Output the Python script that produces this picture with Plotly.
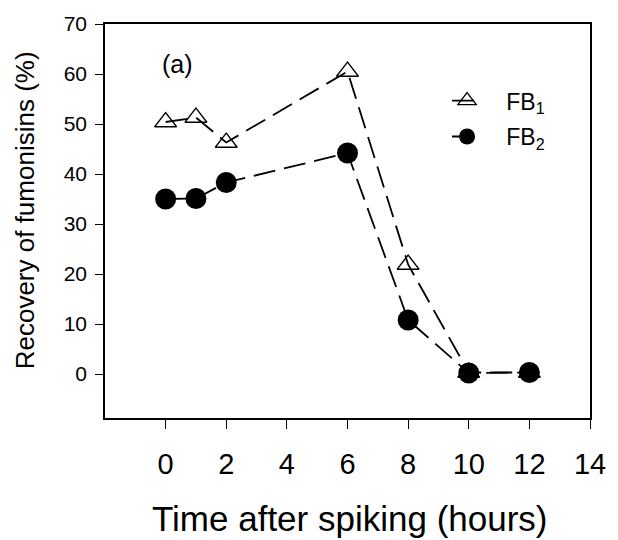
import plotly.graph_objects as go

hours = [0, 1, 2, 6, 8, 10, 12]
fb1 = [50.4, 51.3, 46.3, 60.5, 21.9, 0.3, 0.3]
fb2 = [35.0, 35.1, 38.3, 44.2, 10.8, 0.2, 0.3]
x_ticks = [0, 2, 4, 6, 8, 10, 12, 14]
y_ticks = [0, 10, 20, 30, 40, 50, 60, 70]

FONT = "Liberation Sans, Arial, sans-serif"
L, R, T, B = 105, 597, 18, 418


def px(x):
    return (x - L) / (R - L)


def py(y):
    return (B - y) / (B - T)


fig = go.Figure()
fig.add_trace(go.Scatter(
    x=hours, y=fb1, name="\u00a0\u00a0\u00a0FB<sub>1</sub>", mode="lines+markers",
    legendgroup="a",
    line=dict(color="black", width=1.8, dash="22px,9px"),
    marker=dict(symbol="triangle-up-open", size=19, color="black", line=dict(width=1.3)),
))
fig.add_trace(go.Scatter(
    x=hours, y=fb2, name="\u00a0\u00a0\u00a0FB<sub>2</sub>", mode="lines+markers",
    legendgroup="b",
    line=dict(color="black", width=1.8, dash="22px,9px"),
    marker=dict(symbol="circle", size=21, color="black"),
))

fig.add_annotation(x=px(179), y=py(59), xref="paper", yref="paper", text="(a)",
                   showarrow=False, xanchor="center", yanchor="middle",
                   font=dict(size=25, family=FONT, color="black"))
fig.add_annotation(x=px(24), y=py(207), xref="paper", yref="paper",
                   text="Recovery of fumonisins (%)", textangle=-90, showarrow=False,
                   xanchor="center", yanchor="middle",
                   font=dict(size=26, family=FONT, color="black"))
fig.add_annotation(x=px(354), y=py(520), xref="paper", yref="paper",
                   text="Time after spiking (hours)", showarrow=False,
                   xanchor="center", yanchor="middle",
                   font=dict(size=35, family=FONT, color="black"))

fig.update_layout(
    width=618, height=540,
    margin=dict(l=L, r=618 - R, t=T, b=540 - B),
    plot_bgcolor="white", paper_bgcolor="white",
    font=dict(family=FONT, color="black"),
    showlegend=True,
    legend=dict(x=px(452), y=py(74), xanchor="left", yanchor="top",
                font=dict(size=23, family=FONT), bgcolor="rgba(0,0,0,0)",
                itemwidth=30, tracegroupgap=3),
    xaxis=dict(range=[-2, 14], tickvals=x_ticks, ticks="outside", ticklen=9,
               tickcolor="black", tickwidth=1.2, showline=True, linecolor="black", linewidth=1.5,
               mirror=True, showgrid=False, zeroline=False,
               tickfont=dict(size=29, family=FONT), ticklabelstandoff=10),
    yaxis=dict(range=[-8.8, 70], tickvals=y_ticks, ticks="outside", ticklen=8,
               tickcolor="black", tickwidth=1.2, showline=True, linecolor="black", linewidth=1.5,
               mirror=True, showgrid=False, zeroline=False,
               tickfont=dict(size=21, family=FONT), ticklabelstandoff=4),
)

fig.write_html("out.html")
